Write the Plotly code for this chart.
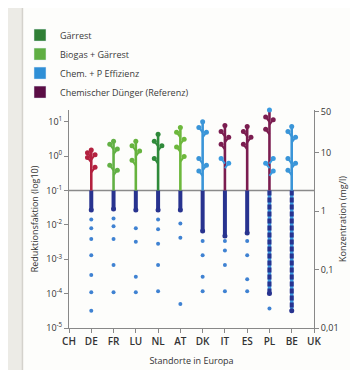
import plotly.graph_objects as go

countries = ["CH", "DE", "FR", "LU", "NL", "AT", "DK", "IT", "ES", "PL", "BE", "UK"]

legend_names = ["Gärrest", "Biogas + Gärrest", "Chem. + P Effizienz", "Chemischer Dünger (Referenz)"]
legend_colors = ["#2f7f35", "#5fae43", "#2f8fd6", "#5a0d45"]

# reduction factor reached by each "tree" (top of the stem)
stem_top = [None, 1.5, 2.7, 2.7, 4.3, 6.8, 10, 7.7, 7.2, 21.8, 7.2, None]
tree_color = [None, "#b3213f", "#62b045", "#66b33e", "#2f8a3a", "#6db83c",
              "#3a95d8", "#7b1d50", "#7b1d50", "#7b1d50", "#3a95d8", None]
# buds in the tree colour
main_buds = [[], [1.25, 1.1, 0.91, 0.47], [2.2, 1.6, 0.54, 0.39], [2.0, 1.4, 0.75],
             [2.7, 2.0, 0.85], [4.9, 3.1, 1.85, 0.97], [6.8, 4.9, 0.85, 0.54, 0.37],
             [5.2, 3.5, 2.2], [5.2, 3.5, 2.2], [13.8, 11.4, 6.0],
             [5.2, 3.5, 0.85, 0.62, 0.39], []]
# light blue buds (P efficiency scenario) on mixed trees
blue_buds = [[], [], [], [], [], [], [], [0.85, 0.62], [], [21.8, 0.85, 0.62, 0.37], [], []]

# dense part below the reference line (down to this reduction factor)
dense_low = [None, 0.027, 0.029, 0.027, 0.027, 0.027, 0.0066, 0.0047, 0.0058, 0.0001, 0.000032, None]
# isolated points below the dense part
single_pts = [[], [0.0143, 0.008, 0.0039, 0.0013, 0.00035, 0.00011, 0.000032],
              [0.0153, 0.0091, 0.0039, 0.00068, 0.00011],
              [0.008, 0.0032, 0.00031, 0.00011],
              [0.0143, 0.0075, 0.0028, 0.00068, 0.000118],
              [0.011, 0.0042, 0.00005],
              [0.0034, 0.0013, 0.00031, 0.000118],
              [0.0034, 0.0018, 0.00068, 0.000118],
              [0.0034, 0.0013, 0.00026, 0.000118],
              [0.000037], [], []]

ref_level = 0.1
left_ticks = [10, 1, 0.1, 0.01, 0.001, 0.0001, 0.00001]
left_ticktext = ["10<sup>1</sup>", "10<sup>0</sup>", "10<sup>-1</sup>", "10<sup>-2</sup>",
                 "10<sup>-3</sup>", "10<sup>-4</sup>", "10<sup>-5</sup>"]
right_ticks = [50, 10, 1, 0.1, 0.01]
right_ticktext = ["50", "10", "1", "0,1", "0,01"]

NAVY = "#28338f"
DOT = "#3f82d2"
LIGHTBLUE = "#3a9ae0"
FONT = "Open Sans"

fig = go.Figure()

# legend entries
for n, c in zip(legend_names, legend_colors):
    fig.add_trace(go.Bar(x=[None], y=[None], name=n, marker_color=c, showlegend=True))

# reference line
fig.add_trace(go.Scatter(x=[0, len(countries) - 1], y=[ref_level, ref_level], mode="lines",
                         line=dict(color="#8a8a8a", width=1.6), showlegend=False, hoverinfo="skip"))

dx = 0.17
for i, c in enumerate(countries):
    if stem_top[i] is None:
        continue
    # isolated points
    pts = single_pts[i]
    if pts:
        fig.add_trace(go.Scatter(x=[i] * len(pts), y=pts, mode="markers",
                                 marker=dict(color=DOT, size=4), showlegend=False, cliponaxis=False))
    # dense part (beaded)
    long_dense = dense_low[i] < 0.001
    if long_dense:
        fig.add_trace(go.Scatter(x=[i, i], y=[ref_level, dense_low[i]], mode="lines",
                                 line=dict(color=LIGHTBLUE, width=3.5), showlegend=False))
    fig.add_trace(go.Scatter(x=[i, i], y=[ref_level, dense_low[i]], mode="lines",
                             line=dict(color=NAVY, width=4, dash="5px,2px" if long_dense else "solid"),
                             showlegend=False))
    fig.add_trace(go.Scatter(x=[i], y=[dense_low[i]], mode="markers",
                             marker=dict(color=NAVY, size=5), showlegend=False))
    # stem
    fig.add_trace(go.Scatter(x=[i, i], y=[ref_level, stem_top[i]], mode="lines",
                             line=dict(color=tree_color[i], width=2.6), showlegend=False,
                             cliponaxis=False))
    for buds, col in ((main_buds[i], tree_color[i]), (blue_buds[i], LIGHTBLUE)):
        if not buds:
            continue
        bx, by, mx, my = [], [], [], []
        for j, b in enumerate(buds):
            if b >= stem_top[i]:
                mx.append(i); my.append(b)
                continue
            side = -1 if j % 2 == 0 else 1
            bx += [i, i + side * dx, None]
            by += [b / 1.4, b, None]
            mx.append(i + side * dx); my.append(b)
        if bx:
            fig.add_trace(go.Scatter(x=bx, y=by, mode="lines", line=dict(color=col, width=2),
                                     showlegend=False))
        fig.add_trace(go.Scatter(x=mx, y=my, mode="markers",
                                 marker=dict(color=col, size=5), showlegend=False, cliponaxis=False))
    # top bud
    if stem_top[i] not in blue_buds[i]:
        fig.add_trace(go.Scatter(x=[i], y=[stem_top[i]], mode="markers",
                                 marker=dict(color=tree_color[i], size=5), showlegend=False,
                                 cliponaxis=False))

fig.add_shape(type="rect", xref="paper", yref="paper", x0=-0.19, x1=1.174, y0=-0.4, y1=1.6,
              fillcolor="#fdfdfb", line=dict(color="#d4d2cc", width=1.5), layer="below")

fig.update_layout(
    width=358, height=370,
    margin=dict(l=53, r=52, t=95, b=50),
    paper_bgcolor="#ecebe6", plot_bgcolor="rgba(0,0,0,0)",
    font=dict(family=FONT, color="#333333", size=9),
    showlegend=True,
    legend=dict(x=-0.2, y=1.41, xanchor="left", yanchor="top", bgcolor="rgba(0,0,0,0)",
                font=dict(size=9, color="#3a3a3a"), itemwidth=30, tracegroupgap=0),
    xaxis=dict(range=[0, len(countries) - 1], tickvals=list(range(len(countries))),
               ticktext=countries, showgrid=False, zeroline=False, showline=True,
               linecolor="#888888", linewidth=1, ticks="outside", ticklen=4, tickcolor="#888888",
               tickfont=dict(size=10, color="#333333", weight=600),
               title=dict(text="Standorte in Europa", font=dict(size=9, color="#333333"), standoff=10)),
    yaxis=dict(type="log", range=[-5, 1.34], tickvals=left_ticks, ticktext=left_ticktext,
               showgrid=False, zeroline=False, showline=True, linecolor="#888888", linewidth=1,
               ticks="outside", ticklen=4, tickcolor="#888888", tickfont=dict(size=9),
               title=dict(text="Reduktionsfaktion (log10)", font=dict(size=9), standoff=6)),
    yaxis2=dict(type="log", range=[-2, 1.732], overlaying="y", side="right", anchor="x",
                tickvals=right_ticks, ticktext=right_ticktext, showgrid=False, zeroline=False,
                showline=True, linecolor="#888888", linewidth=1, ticks="outside", ticklen=4,
                tickcolor="#888888", tickfont=dict(size=9),
                title=dict(text="Konzentration (mg/l)", font=dict(size=9), standoff=2)),
)
# invisible trace to activate the right axis
fig.add_trace(go.Scatter(x=[None], y=[None], yaxis="y2", showlegend=False))

fig.write_html("out.html")
